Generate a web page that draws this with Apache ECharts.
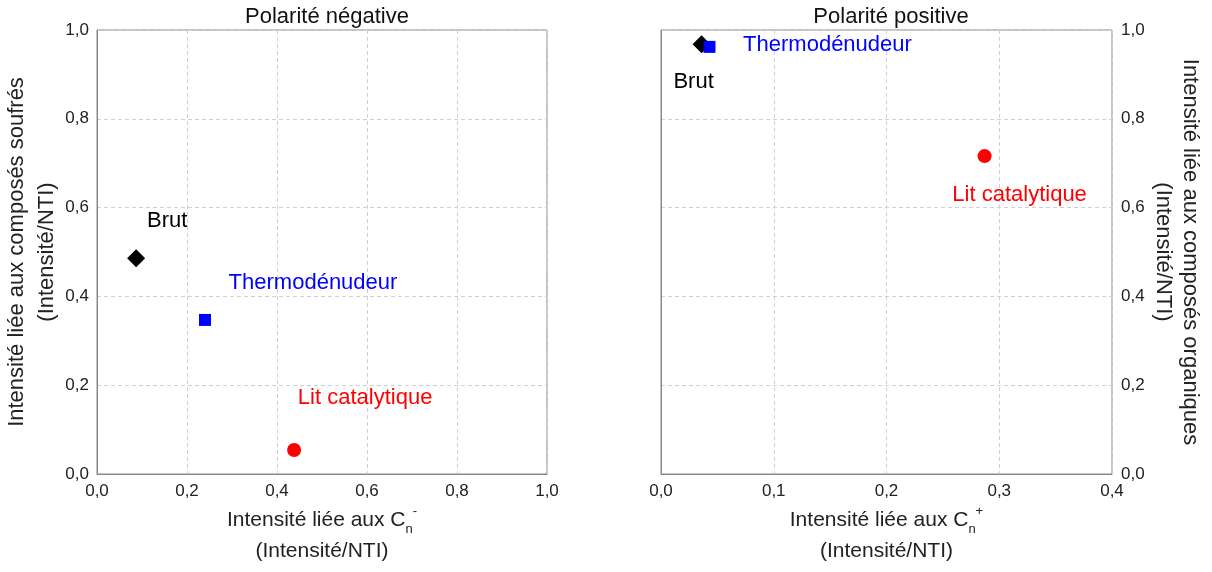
<!DOCTYPE html>
<html>
<head>
<meta charset="utf-8">
<script src="https://cdn.jsdelivr.net/npm/echarts@6/dist/echarts.min.js"></script>
<style>html,body{margin:0;padding:0;background:#fff}#c{width:1212px;height:572px}</style>
</head>
<body>
<div id="c"></div>
<script>
// ---- data ----
const sampleNames = ['Brut', 'Thermodénudeur', 'Lit catalytique'];
const negX = [0.087, 0.240, 0.438];
const negY = [0.486, 0.347, 0.054];
const posX = [0.036, 0.043, 0.287];
const posY = [0.968, 0.962, 0.716];
const panelTitles = ['Polarité négative', 'Polarité positive'];
const leftYName = 'Intensité liée aux composés soufrés';
const rightYName = 'Intensité liée aux composés organiques';
const unitName = '(Intensité/NTI)';

// ---- style ----
const FONT = '"Liberation Sans", Arial, sans-serif';
const colors = ['#000000', '#0000ff', '#ff0000'];
const symbols = ['diamond', 'rect', 'circle'];
const symbolSizes = [[18, 18], 12, 14];
const negOffsets = [[31, -37], [108, -37], [71, -52]];
const posOffsets = [[-8, 38], [118, -2], [35, 39]];

const fmt = v => v.toFixed(1).replace('.', ',');
const gridLine = { show: true, lineStyle: { color: '#d0d0d0', type: [4, 3], width: 1 } };
const axisLine = { show: true, lineStyle: { color: '#888', width: 1 } };
const tickLabel = { color: '#222', fontSize: 17, fontFamily: FONT, formatter: fmt };
const richName = {
  b: { fontSize: 21, fontFamily: FONT, color: '#222', lineHeight: 31 },
  sub: { fontSize: 13, fontFamily: FONT, color: '#222', lineHeight: 12, verticalAlign: 'bottom' },
  sup: { fontSize: 13, fontFamily: FONT, color: '#222', lineHeight: 12, verticalAlign: 'top' }
};

function buildSeries(xs, ys, offsets, axisIdx) {
  return sampleNames.map((name, i) => ({
    type: 'scatter',
    name: name,
    xAxisIndex: axisIdx,
    yAxisIndex: axisIdx,
    symbol: symbols[i],
    symbolSize: symbolSizes[i],
    itemStyle: { color: colors[i], opacity: 1 },
    label: {
      show: true,
      position: 'inside',
      offset: offsets[i],
      formatter: name,
      color: colors[i],
      fontSize: 22,
      fontFamily: FONT,
      align: 'center',
      verticalAlign: 'middle'
    },
    emphasis: { disabled: true },
    data: [[xs[i], ys[i]]]
  }));
}

const chart = echarts.init(document.getElementById('c'), null, { renderer: 'canvas' });
chart.setOption({
  animation: false,
  backgroundColor: '#fff',
  textStyle: { fontFamily: FONT },
  title: [
    { text: panelTitles[0], left: 322, top: 1, textAlign: 'center',
      textStyle: { fontSize: 22, fontWeight: 'normal', color: '#111', fontFamily: FONT } },
    { text: panelTitles[1], left: 886, top: 1, textAlign: 'center',
      textStyle: { fontSize: 22, fontWeight: 'normal', color: '#111', fontFamily: FONT } }
  ],
  grid: [
    { left: 97, top: 30, width: 450, height: 444, show: true, borderColor: '#888', borderWidth: 1, backgroundColor: 'transparent' },
    { left: 661, top: 30, width: 451, height: 444, show: true, borderColor: '#888', borderWidth: 1, backgroundColor: 'transparent' }
  ],
  xAxis: [
    { type: 'value', gridIndex: 0, min: 0, max: 1, interval: 0.2,
      axisLine: axisLine, axisTick: { show: false }, splitLine: gridLine,
      axisLabel: Object.assign({ margin: 9 }, tickLabel),
      name: '{b|Intensité liée aux C}{sub|n}{sup|-}\n{b|' + unitName + '}',
      nameLocation: 'middle', nameGap: 29,
      nameTextStyle: { rich: richName, fontSize: 21, color: '#222', lineHeight: 31 } },
    { type: 'value', gridIndex: 1, min: 0, max: 0.4, interval: 0.1,
      axisLine: axisLine, axisTick: { show: false }, splitLine: gridLine,
      axisLabel: Object.assign({ margin: 9 }, tickLabel),
      name: '{b|Intensité liée aux C}{sub|n}{sup|+}\n{b|' + unitName + '}',
      nameLocation: 'middle', nameGap: 29,
      nameTextStyle: { rich: richName, fontSize: 21, color: '#222', lineHeight: 31 } }
  ],
  yAxis: [
    { type: 'value', gridIndex: 0, min: 0, max: 1, interval: 0.2,
      axisLine: axisLine, axisTick: { show: false }, splitLine: gridLine,
      axisLabel: Object.assign({ margin: 8 }, tickLabel),
      name: leftYName + '\n' + unitName,
      nameLocation: 'middle', nameRotate: 90, nameGap: 35,
      nameTextStyle: { fontSize: 22, color: '#222', fontFamily: FONT, lineHeight: 30 } },
    { type: 'value', gridIndex: 1, min: 0, max: 1, interval: 0.2, position: 'right',
      axisLine: axisLine, axisTick: { show: false }, splitLine: gridLine,
      axisLabel: Object.assign({ margin: 9 }, tickLabel),
      name: rightYName + '\n' + unitName,
      nameLocation: 'middle', nameRotate: -90, nameGap: 38,
      nameTextStyle: { fontSize: 22, color: '#222', fontFamily: FONT, lineHeight: 27 } }
  ],
  series: buildSeries(negX, negY, negOffsets, 0).concat(buildSeries(posX, posY, posOffsets, 1))
});
</script>
</body>
</html>
